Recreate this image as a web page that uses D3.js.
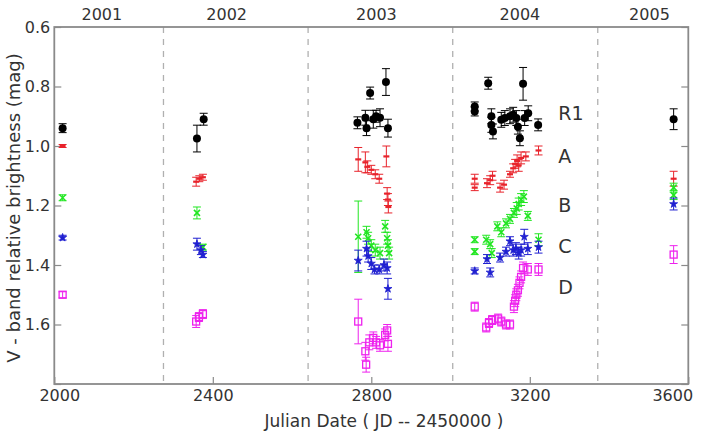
<!DOCTYPE html>
<html><head><meta charset="utf-8">
<script src="https://cdn.jsdelivr.net/npm/d3@7"></script>
<style>body{margin:0;background:#fff;} svg{display:block;} text{font-family:"DejaVu Sans",sans-serif;fill:#333;}</style>
</head><body><svg id="c" width="702" height="436"></svg>
<script>
// [JD-2450000, mag, error]
const seriesR1 = [
  [2021,0.94,0.015],[2360,0.975,0.045],[2377,0.91,0.02],
  [2765,0.922,0.02],[2785,0.905,0.025],[2788,0.94,0.025],[2797,0.822,0.02],[2805,0.91,0.03],[2812,0.90,0.02],[2822,0.905,0.03],[2837,0.785,0.045],[2842,0.94,0.03],
  [3061,0.867,0.015],[3061,0.884,0.015],[3095,0.789,0.02],[3103,0.90,0.025],[3103,0.929,0.025],[3107,0.951,0.025],[3128,0.912,0.025],[3137,0.906,0.025],[3150,0.90,0.025],[3158,0.895,0.025],[3166,0.906,0.025],[3170,0.935,0.025],[3175,0.974,0.025],[3183,0.791,0.055],[3187,0.906,0.025],[3196,0.89,0.025],[3221,0.929,0.02],
  [3563,0.91,0.035]
];
const seriesA = [
  [2021,1.0,0.005],[2358,1.12,0.015],[2366,1.11,0.01],[2375,1.105,0.01],
  [2767,1.045,0.04],[2785,1.055,0.035],[2790,1.07,0.02],[2800,1.08,0.015],[2810,1.095,0.015],[2820,1.11,0.015],[2838,1.035,0.035],[2840,1.16,0.02],[2842,1.18,0.02],[2843,1.205,0.02],
  [3061,1.11,0.015],[3061,1.14,0.01],[3092,1.125,0.015],[3100,1.115,0.015],[3106,1.10,0.015],[3125,1.14,0.015],[3135,1.13,0.015],[3150,1.095,0.01],[3158,1.075,0.015],[3163,1.06,0.015],[3168,1.05,0.02],[3172,1.065,0.02],[3178,1.04,0.02],[3190,1.035,0.015],[3222,1.015,0.015],
  [3563,1.11,0.025]
];
const seriesB = [
  [2021,1.174,0.01],[2360,1.225,0.02],[2375,1.34,0.01],
  [2767,1.305,0.12],[2788,1.29,0.02],[2792,1.31,0.02],[2800,1.335,0.02],[2810,1.35,0.02],[2822,1.36,0.02],[2835,1.27,0.02],[2840,1.31,0.02],[2842,1.335,0.02],[2845,1.36,0.02],
  [3061,1.315,0.01],[3061,1.355,0.01],[3090,1.315,0.015],[3100,1.33,0.015],[3104,1.36,0.015],[3118,1.27,0.015],[3128,1.29,0.015],[3140,1.26,0.015],[3150,1.245,0.015],[3160,1.225,0.015],[3167,1.21,0.02],[3172,1.195,0.02],[3178,1.18,0.02],[3185,1.17,0.02],[3195,1.235,0.015],[3222,1.315,0.02],
  [3563,1.14,0.015],[3563,1.165,0.015]
];
const seriesC = [
  [2021,1.308,0.008],[2360,1.33,0.02],[2370,1.35,0.015],[2375,1.365,0.01],
  [2767,1.385,0.035],[2788,1.345,0.025],[2792,1.37,0.02],[2800,1.395,0.02],[2808,1.415,0.015],[2820,1.415,0.015],[2832,1.40,0.02],[2840,1.41,0.02],[2842,1.48,0.035],
  [3061,1.42,0.01],[3092,1.38,0.015],[3100,1.425,0.015],[3125,1.375,0.015],[3140,1.355,0.015],[3150,1.32,0.015],[3158,1.35,0.02],[3165,1.345,0.02],[3172,1.36,0.02],[3178,1.35,0.02],[3186,1.305,0.025],[3195,1.345,0.02],[3222,1.34,0.02],
  [3563,1.195,0.02]
];
const seriesD = [
  [2021,1.50,0.01],[2358,1.59,0.02],[2365,1.575,0.015],[2375,1.565,0.015],
  [2767,1.59,0.075],[2785,1.69,0.03],[2787,1.735,0.025],[2795,1.66,0.025],[2805,1.645,0.02],[2812,1.66,0.02],[2822,1.67,0.02],[2835,1.635,0.02],[2840,1.62,0.02],[2842,1.665,0.025],
  [3061,1.54,0.015],[3090,1.61,0.015],[3097,1.595,0.015],[3105,1.585,0.015],[3120,1.58,0.015],[3128,1.59,0.015],[3140,1.60,0.015],[3150,1.60,0.015],[3160,1.54,0.02],[3163,1.52,0.02],[3166,1.50,0.02],[3170,1.485,0.02],[3174,1.46,0.02],[3178,1.44,0.02],[3183,1.41,0.02],[3195,1.415,0.02],[3222,1.415,0.02],
  [3563,1.365,0.03]
];
const xTicks = [2000,2400,2800,3200,3600];
const yTicks = [0.6,0.8,1.0,1.2,1.4,1.6,1.8];
const yTickLabels = ["0.6","0.8","1.0","1.2","1.4","1.6",""];
const yearBoundaries = [2275.5,2640.5,3005.5,3371.5];
const yearLabels = ["2001","2002","2003","2004","2005"];
const yearLabelJD = [2120,2435,2813,3175,3502];
const seriesNames = ["R1","A","B","C","D"];
const seriesLabelMag = [0.89,1.035,1.2,1.335,1.475];
const seriesLabelJD = 3272;

const svg = d3.select("#c");
const L=54.3, R=688.3, T=27, B=384;
const x = d3.scaleLinear().domain([2000,3600]).range([L,R]);
const y = d3.scaleLinear().domain([0.6,1.8]).range([T,B]);
const axisCol = "#8a8a8a";

// year boundary dashed lines
svg.append("g").selectAll("line").data(yearBoundaries).join("line")
  .attr("x1",d=>x(d)).attr("x2",d=>x(d)).attr("y1",T).attr("y2",B)
  .attr("stroke","#b0b0b0").attr("stroke-width",1.3).attr("stroke-dasharray","6,6");

// axes (ticks inward)
const gx = svg.append("g").attr("transform",`translate(0,${B})`)
  .call(d3.axisBottom(x).tickValues(xTicks).tickFormat(d3.format("d")).tickSizeInner(-7).tickSizeOuter(0).tickPadding(6));
gx.selectAll("text").attr("font-size",16).attr("dx",(d,i)=> i===0?5:(i===xTicks.length-1?-16:0));
const gy = svg.append("g").attr("transform",`translate(${L},0)`)
  .call(d3.axisLeft(y).tickValues(yTicks).tickFormat((d,i)=>yTickLabels[i]).tickSizeInner(-7).tickSizeOuter(0).tickPadding(4));
gy.selectAll("text").attr("font-size",16);
const gr = svg.append("g").attr("transform",`translate(${R},0)`)
  .call(d3.axisRight(y).tickValues(yTicks).tickFormat("").tickSizeInner(-7).tickSizeOuter(0));
svg.selectAll(".domain").remove();
svg.selectAll(".tick line").attr("stroke",axisCol).attr("stroke-width",1.2);
svg.append("rect").attr("x",L).attr("y",T).attr("width",R-L).attr("height",B-T)
  .attr("fill","none").attr("stroke",axisCol).attr("stroke-width",1.8);

// year labels
svg.append("g").selectAll("text").data(yearLabels).join("text")
  .attr("x",(d,i)=>x(yearLabelJD[i])).attr("y",20).attr("text-anchor","middle")
  .attr("font-size",16).text(d=>d);

// axis titles
svg.append("text").attr("x",384).attr("y",427).attr("text-anchor","middle").attr("font-size",17)
  .text("Julian Date ( JD -- 2450000 )");
svg.append("text").attr("transform",`translate(20,${208}) rotate(-90)`).attr("text-anchor","middle")
  .attr("font-size",18).text("V - band relative brightness (mag)");

// series
const series = [
  {data:seriesR1,color:"#000000",marker:"circle"},
  {data:seriesA,color:"#e8232b",marker:"dot"},
  {data:seriesB,color:"#22e622",marker:"x"},
  {data:seriesC,color:"#1f1fd0",marker:"star"},
  {data:seriesD,color:"#ee22ee",marker:"square"}
];
const cap=4;
series.forEach(s=>{
  const g = svg.append("g");
  const pts = g.selectAll("g").data(s.data).join("g");
  pts.append("line").attr("x1",d=>x(d[0])).attr("x2",d=>x(d[0]))
    .attr("y1",d=>y(d[1]-d[2])).attr("y2",d=>y(d[1]+d[2])).attr("stroke",s.color).attr("stroke-width",1);
  pts.append("line").attr("x1",d=>x(d[0])-cap).attr("x2",d=>x(d[0])+cap)
    .attr("y1",d=>y(d[1]-d[2])).attr("y2",d=>y(d[1]-d[2])).attr("stroke",s.color).attr("stroke-width",1);
  pts.append("line").attr("x1",d=>x(d[0])-cap).attr("x2",d=>x(d[0])+cap)
    .attr("y1",d=>y(d[1]+d[2])).attr("y2",d=>y(d[1]+d[2])).attr("stroke",s.color).attr("stroke-width",1);
  if(s.marker==="circle"){
    pts.append("circle").attr("cx",d=>x(d[0])).attr("cy",d=>y(d[1])).attr("r",4).attr("fill",s.color);
  } else if(s.marker==="dot"){
    pts.append("path").attr("d",d=>`M${x(d[0])-3},${y(d[1])}h6`).attr("stroke",s.color).attr("stroke-width",2.2);
  } else if(s.marker==="x"){
    pts.append("path").attr("d",d=>{const cx=x(d[0]),cy=y(d[1]),r=3;return `M${cx-r},${cy-r}L${cx+r},${cy+r}M${cx-r},${cy+r}L${cx+r},${cy-r}`;})
      .attr("stroke",s.color).attr("stroke-width",1.6).attr("fill","none");
  } else if(s.marker==="star"){
    pts.append("path").attr("transform",d=>`translate(${x(d[0])},${y(d[1])})`)
      .attr("d",d3.symbol(d3.symbolStar,20)).attr("fill",s.color).attr("stroke",s.color).attr("stroke-width",0.8);
  } else if(s.marker==="square"){
    pts.append("rect").attr("x",d=>x(d[0])-3.5).attr("y",d=>y(d[1])-3.5).attr("width",7).attr("height",7)
      .attr("fill","none").attr("stroke",s.color).attr("stroke-width",1.3);
  }
});

// series labels
svg.append("g").selectAll("text").data(seriesNames).join("text")
  .attr("x",x(seriesLabelJD)).attr("y",(d,i)=>y(seriesLabelMag[i])).attr("dy","0.36em")
  .attr("font-size",19).text(d=>d);
</script></body></html>
